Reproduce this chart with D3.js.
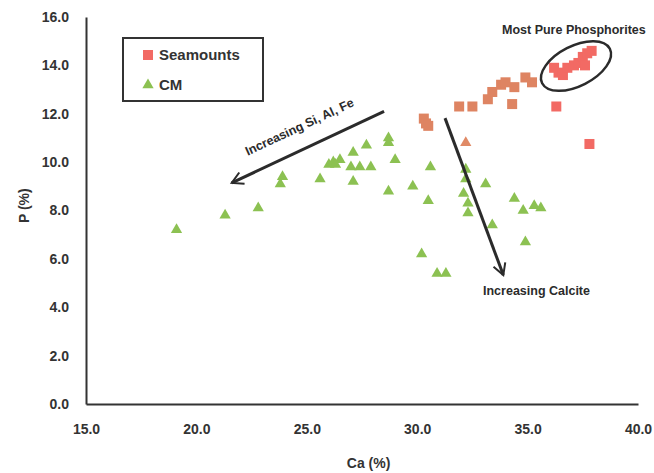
<!DOCTYPE html>
<html>
<head>
<meta charset="UTF-8">
<style>
body{
	margin: 0;
	background: #fff;
}
svg{
	font-family: "Liberation Sans", Arial, sans-serif;
}
.axis text{
	font-size: 14px;
	font-weight: bold;
	fill: #333;
}
.axis path{
	stroke: #333;
	stroke-width: 2px;
}
.axis-label{
	font-size: 14px;
	font-weight: bold;
	fill: #333;
	text-anchor: middle;
}
.note{
	font-size: 12.5px;
	font-weight: bold;
	fill: #2b2b2b;
}
.legend-text{
	font-size: 15px;
	font-weight: bold;
	fill: #333;
}
</style>
<script src="https://cdn.jsdelivr.net/npm/d3@7"></script>
</head>
<body>
<script>
// Ca (%) and P (%)
var seamountCa = [30.3, 30.4, 30.5, 31.9, 32.5, 33.2, 33.4, 33.8, 34.0, 34.4, 34.3, 34.9, 35.2,
                  36.2, 36.4, 36.6, 36.8, 37.1, 37.3, 37.5, 37.6, 37.7, 37.9, 36.3, 37.8];
var seamountP  = [11.8, 11.6, 11.5, 12.3, 12.3, 12.6, 12.9, 13.2, 13.3, 13.1, 12.4, 13.5, 13.3,
                  13.9, 13.7, 13.6, 13.9, 14.0, 14.1, 14.35, 14.0, 14.5, 14.6, 12.3, 10.75];

var cmCa = [19.1, 21.3, 22.8, 23.8, 23.9, 25.6, 26.0, 26.2, 26.5, 26.3, 27.1, 27.7, 27.1, 27.0,
            27.4, 27.9, 28.7, 28.7, 29.0, 28.7, 29.8, 30.6, 30.5, 30.2, 30.9, 31.3, 32.2, 32.2,
            32.1, 32.3, 32.3, 33.1, 33.4, 34.4, 34.8, 35.3, 35.6, 34.9, 32.2];
var cmP  = [7.2, 7.8, 8.1, 9.1, 9.4, 9.3, 9.9, 10.0, 10.1, 9.9, 10.4, 10.7, 9.2, 9.8,
            9.8, 9.8, 11.0, 10.8, 10.1, 8.8, 9.0, 9.8, 8.4, 6.2, 5.4, 5.4, 9.7, 9.3,
            8.7, 8.3, 7.9, 9.1, 7.4, 8.5, 8.0, 8.2, 8.1, 6.7, 10.8];

var seriesNames = ["Seamounts", "CM"];
var xTicks = [15, 20, 25, 30, 35, 40];
var yTicks = [0, 2, 4, 6, 8, 10, 12, 14, 16];

var W = 654, H = 473;
var margin = {top: 17, right: 16, bottom: 69, left: 86};

var x = d3.scaleLinear().domain([15, 40]).range([margin.left, W - margin.right]);
var y = d3.scaleLinear().domain([0, 16]).range([H - margin.bottom, margin.top]);

var svg = d3.select("body").append("svg")
	.attr("width", W)
	.attr("height", H);

var defs = svg.append("defs");
defs.append("marker")
	.attr("id", "chev")
	.attr("viewBox", "0 0 12 12")
	.attr("refX", 10).attr("refY", 6)
	.attr("markerWidth", 5).attr("markerHeight", 5)
	.attr("markerUnits", "strokeWidth")
	.attr("orient", "auto")
	.append("path")
	.attr("d", "M1,1 L10,6 L1,11")
	.attr("fill", "none")
	.attr("stroke", "#2b2b2b")
	.attr("stroke-width", 1.6);

svg.append("g")
	.attr("class", "x axis")
	.attr("transform", "translate(0," + y(0) + ")")
	.call(d3.axisBottom(x).tickValues(xTicks).tickFormat(d3.format(".1f")).tickSize(0).tickPadding(20));

svg.append("g")
	.attr("class", "y axis")
	.attr("transform", "translate(" + x(15) + ",0)")
	.call(d3.axisLeft(y).tickValues(yTicks).tickFormat(d3.format(".1f")).tickSize(0).tickPadding(17));

svg.append("text")
	.attr("class", "axis-label")
	.attr("x", x(27.8)).attr("y", 468)
	.text("Ca (%)");

svg.append("text")
	.attr("class", "axis-label")
	.attr("transform", "translate(29," + y(8.2) + ") rotate(-90)")
	.text("P (%)");

// points
var cm = cmCa.map(function(v, i){ return {ca: v, p: cmP[i]}; });
var sea = seamountCa.map(function(v, i){ return {ca: v, p: seamountP[i]}; });

var tri = d3.symbol().type(d3.symbolTriangle).size(55);
svg.append("g").selectAll("path")
	.data(cm)
	.enter().append("path")
	.attr("d", tri)
	.attr("transform", function(d){ return "translate(" + x(d.ca) + "," + y(d.p) + ")"; })
	.attr("fill", function(d, i){ return i == cm.length - 1 ? "#E08A66" : "#8CC152"; });

svg.append("g").selectAll("rect")
	.data(sea)
	.enter().append("rect")
	.attr("x", function(d){ return x(d.ca) - 5; })
	.attr("y", function(d){ return y(d.p) - 5; })
	.attr("width", 10).attr("height", 10)
	.attr("fill", function(d){ return d.ca < 35.5 ? "#DE8462" : "#F26A64"; });

// legend
var legend = svg.append("g");
legend.append("rect")
	.attr("x", 123).attr("y", 38)
	.attr("width", 140).attr("height", 63)
	.attr("fill", "#fff")
	.attr("stroke", "#333")
	.attr("stroke-width", 2);
legend.append("rect")
	.attr("x", 143).attr("y", 50)
	.attr("width", 10).attr("height", 10)
	.attr("fill", "#F26A64");
legend.append("path")
	.attr("d", tri)
	.attr("transform", "translate(148,85)")
	.attr("fill", "#8CC152");
legend.selectAll("text.legend-text")
	.data(seriesNames)
	.enter().append("text")
	.attr("class", "legend-text")
	.attr("x", 159)
	.attr("y", function(d, i){ return 55 + i * 30; })
	.attr("dy", "0.35em")
	.text(function(d){ return d; });

// annotations
svg.append("line")
	.attr("x1", x(28.5)).attr("y1", y(12.1))
	.attr("x2", x(21.6)).attr("y2", y(9.14))
	.attr("stroke", "#2b2b2b").attr("stroke-width", 3)
	.attr("marker-end", "url(#chev)");

svg.append("line")
	.attr("x1", x(31.26)).attr("y1", y(11.82))
	.attr("x2", x(33.9)).attr("y2", y(5.33))
	.attr("stroke", "#2b2b2b").attr("stroke-width", 3)
	.attr("marker-end", "url(#chev)");

svg.append("text")
	.attr("class", "note")
	.attr("text-anchor", "middle")
	.attr("transform", "translate(" + x(24.75) + "," + y(11.3) + ") rotate(-25)")
	.text("Increasing Si, Al, Fe");

svg.append("text")
	.attr("class", "note")
	.attr("x", 483).attr("y", 295)
	.text("Increasing Calcite");

svg.append("text")
	.attr("class", "note")
	.attr("x", 502).attr("y", 34)
	.text("Most Pure Phosphorites");

svg.append("ellipse")
	.attr("transform", "translate(576,66) rotate(-27)")
	.attr("rx", 38).attr("ry", 20)
	.attr("fill", "none")
	.attr("stroke", "#2b2b2b")
	.attr("stroke-width", 2.5);
</script>
</body>
</html>
